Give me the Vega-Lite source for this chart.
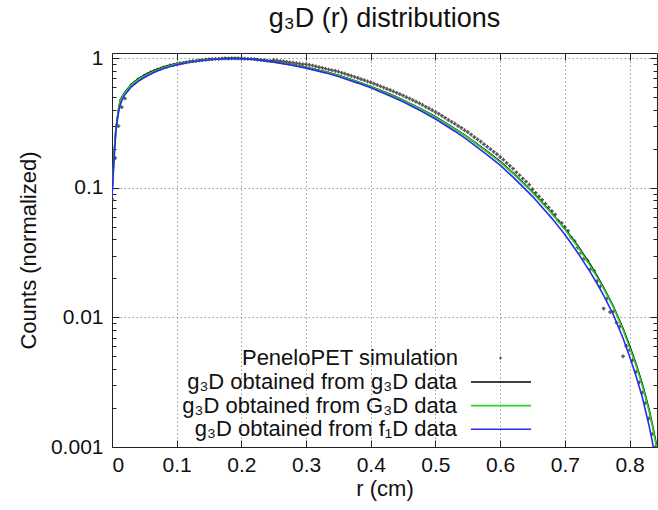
{
  "$schema": "https://vega.github.io/schema/vega-lite/v6.json",
  "width": 545,
  "height": 394,
  "autosize": {"type": "none"},
  "padding": {"left": 112, "top": 53, "right": 1, "bottom": 63},
  "background": "white",
  "title": {
    "text": "g₃D (r) distributions",
    "font": "Liberation Sans",
    "fontSize": 27,
    "fontWeight": "normal",
    "color": "#111111",
    "offset": 14
  },
  "config": {
    "view": {"stroke": null},
    "font": "Liberation Sans",
    "axis": {
      "domainColor": "#222222",
      "domainWidth": 1,
      "tickColor": "#222222",
      "tickWidth": 1,
      "labelFont": "Liberation Sans",
      "labelFontSize": 21,
      "labelColor": "#111111",
      "titleFont": "Liberation Sans",
      "titleFontSize": 22,
      "titleFontWeight": "normal",
      "titleColor": "#111111",
      "gridColor": "#9a9a9a",
      "gridDash": [1.5, 2.5],
      "gridWidth": 1
    }
  },
  "datasets": {
    "sim": [
      {"r": 0, "c": 0.082}, {"r": 0.005, "c": 0.17}, {"r": 0.01, "c": 0.3}, {"r": 0.015, "c": 0.42},
      {"r": 0.02, "c": 0.49}, {"r": 0.025, "c": 0.575}, {"r": 0.03, "c": 0.624}, {"r": 0.035, "c": 0.653},
      {"r": 0.04, "c": 0.687}, {"r": 0.045, "c": 0.708}, {"r": 0.05, "c": 0.736}, {"r": 0.055, "c": 0.755},
      {"r": 0.06, "c": 0.78}, {"r": 0.065, "c": 0.796}, {"r": 0.07, "c": 0.818}, {"r": 0.075, "c": 0.832},
      {"r": 0.08, "c": 0.853}, {"r": 0.085, "c": 0.865}, {"r": 0.09, "c": 0.881}, {"r": 0.095, "c": 0.891},
      {"r": 0.1, "c": 0.904}, {"r": 0.105, "c": 0.914}, {"r": 0.11, "c": 0.925}, {"r": 0.115, "c": 0.933},
      {"r": 0.12, "c": 0.944}, {"r": 0.125, "c": 0.951}, {"r": 0.13, "c": 0.957}, {"r": 0.135, "c": 0.964},
      {"r": 0.14, "c": 0.971}, {"r": 0.145, "c": 0.977}, {"r": 0.15, "c": 0.982}, {"r": 0.155, "c": 0.986},
      {"r": 0.16, "c": 0.989}, {"r": 0.165, "c": 0.993}, {"r": 0.17, "c": 0.995}, {"r": 0.175, "c": 0.998},
      {"r": 0.18, "c": 0.997}, {"r": 0.185, "c": 1.0}, {"r": 0.19, "c": 0.999}, {"r": 0.195, "c": 0.998},
      {"r": 0.2, "c": 0.996}, {"r": 0.205, "c": 0.995}, {"r": 0.21, "c": 0.991}, {"r": 0.215, "c": 0.989},
      {"r": 0.22, "c": 0.986}, {"r": 0.225, "c": 0.979}, {"r": 0.23, "c": 0.975}, {"r": 0.235, "c": 0.968},
      {"r": 0.24, "c": 0.962}, {"r": 0.245, "c": 0.957}, {"r": 0.25, "c": 0.97}, {"r": 0.255, "c": 0.963},
      {"r": 0.26, "c": 0.954}, {"r": 0.265, "c": 0.948}, {"r": 0.27, "c": 0.941}, {"r": 0.275, "c": 0.932},
      {"r": 0.28, "c": 0.926}, {"r": 0.285, "c": 0.917}, {"r": 0.29, "c": 0.909}, {"r": 0.295, "c": 0.899},
      {"r": 0.3, "c": 0.899}, {"r": 0.305, "c": 0.889}, {"r": 0.31, "c": 0.879}, {"r": 0.315, "c": 0.866},
      {"r": 0.32, "c": 0.855}, {"r": 0.325, "c": 0.845}, {"r": 0.33, "c": 0.833}, {"r": 0.335, "c": 0.82},
      {"r": 0.34, "c": 0.809}, {"r": 0.345, "c": 0.801}, {"r": 0.35, "c": 0.789}, {"r": 0.355, "c": 0.774},
      {"r": 0.36, "c": 0.762}, {"r": 0.365, "c": 0.746}, {"r": 0.37, "c": 0.733}, {"r": 0.375, "c": 0.719},
      {"r": 0.38, "c": 0.706}, {"r": 0.385, "c": 0.691}, {"r": 0.39, "c": 0.679}, {"r": 0.395, "c": 0.663},
      {"r": 0.4, "c": 0.652}, {"r": 0.405, "c": 0.637}, {"r": 0.41, "c": 0.624}, {"r": 0.415, "c": 0.608},
      {"r": 0.42, "c": 0.595}, {"r": 0.425, "c": 0.581}, {"r": 0.43, "c": 0.569}, {"r": 0.435, "c": 0.555},
      {"r": 0.44, "c": 0.542}, {"r": 0.445, "c": 0.529}, {"r": 0.45, "c": 0.516}, {"r": 0.455, "c": 0.502},
      {"r": 0.46, "c": 0.489}, {"r": 0.465, "c": 0.475}, {"r": 0.47, "c": 0.463}, {"r": 0.475, "c": 0.45},
      {"r": 0.48, "c": 0.437}, {"r": 0.485, "c": 0.423}, {"r": 0.49, "c": 0.411}, {"r": 0.495, "c": 0.398},
      {"r": 0.5, "c": 0.385}, {"r": 0.505, "c": 0.373}, {"r": 0.51, "c": 0.36}, {"r": 0.515, "c": 0.348},
      {"r": 0.52, "c": 0.335}, {"r": 0.525, "c": 0.324}, {"r": 0.53, "c": 0.313}, {"r": 0.535, "c": 0.301},
      {"r": 0.54, "c": 0.291}, {"r": 0.545, "c": 0.279}, {"r": 0.55, "c": 0.27}, {"r": 0.555, "c": 0.258},
      {"r": 0.56, "c": 0.247}, {"r": 0.565, "c": 0.237}, {"r": 0.57, "c": 0.228}, {"r": 0.575, "c": 0.217},
      {"r": 0.58, "c": 0.208}, {"r": 0.585, "c": 0.199}, {"r": 0.59, "c": 0.19}, {"r": 0.595, "c": 0.182},
      {"r": 0.6, "c": 0.173}, {"r": 0.605, "c": 0.165}, {"r": 0.61, "c": 0.156}, {"r": 0.615, "c": 0.148},
      {"r": 0.62, "c": 0.141}, {"r": 0.625, "c": 0.132}, {"r": 0.63, "c": 0.125}, {"r": 0.635, "c": 0.118},
      {"r": 0.64, "c": 0.112}, {"r": 0.645, "c": 0.106}, {"r": 0.65, "c": 0.0978}, {"r": 0.655, "c": 0.0917},
      {"r": 0.66, "c": 0.086}, {"r": 0.665, "c": 0.081}, {"r": 0.67, "c": 0.0756}, {"r": 0.675, "c": 0.0706},
      {"r": 0.68, "c": 0.0662}, {"r": 0.685, "c": 0.0622}, {"r": 0.69, "c": 0.0558}, {"r": 0.695, "c": 0.0536},
      {"r": 0.7, "c": 0.05}, {"r": 0.705, "c": 0.0466}, {"r": 0.71, "c": 0.0414}, {"r": 0.715, "c": 0.0388},
      {"r": 0.72, "c": 0.0346}, {"r": 0.725, "c": 0.0316}, {"r": 0.73, "c": 0.0285}, {"r": 0.735, "c": 0.0275},
      {"r": 0.74, "c": 0.0237}, {"r": 0.745, "c": 0.0229}, {"r": 0.75, "c": 0.0191}, {"r": 0.755, "c": 0.0174},
      {"r": 0.76, "c": 0.0117}, {"r": 0.765, "c": 0.014}, {"r": 0.77, "c": 0.011}, {"r": 0.775, "c": 0.0111},
      {"r": 0.78, "c": 0.00912}, {"r": 0.785, "c": 0.00851}, {"r": 0.79, "c": 0.00501}, {"r": 0.795, "c": 0.00603},
      {"r": 0.8, "c": 0.00562}, {"r": 0.805, "c": 0.00468}, {"r": 0.81, "c": 0.0038}, {"r": 0.815, "c": 0.00316},
      {"r": 0.82, "c": 0.00263}, {"r": 0.825, "c": 0.00219}, {"r": 0.83, "c": 0.00166}, {"r": 0.835, "c": 0.00126},
      {"r": 0.84, "c": 0.001}
    ],
    "g3D": [
      {"r": 0, "c": 0.09}, {"r": 0.003, "c": 0.18}, {"r": 0.006, "c": 0.285}, {"r": 0.01, "c": 0.402},
      {"r": 0.013, "c": 0.484}, {"r": 0.02, "c": 0.548}, {"r": 0.03, "c": 0.63}, {"r": 0.04, "c": 0.691},
      {"r": 0.05, "c": 0.74}, {"r": 0.06, "c": 0.784}, {"r": 0.07, "c": 0.823}, {"r": 0.08, "c": 0.857},
      {"r": 0.09, "c": 0.888}, {"r": 0.1, "c": 0.909}, {"r": 0.12, "c": 0.947}, {"r": 0.14, "c": 0.976},
      {"r": 0.16, "c": 0.994}, {"r": 0.18, "c": 1.0}, {"r": 0.19, "c": 1.0}, {"r": 0.2, "c": 0.998},
      {"r": 0.22, "c": 0.987}, {"r": 0.25, "c": 0.945}, {"r": 0.28, "c": 0.891}, {"r": 0.3, "c": 0.855},
      {"r": 0.33, "c": 0.787}, {"r": 0.35, "c": 0.74}, {"r": 0.38, "c": 0.659}, {"r": 0.4, "c": 0.607},
      {"r": 0.43, "c": 0.528}, {"r": 0.45, "c": 0.477}, {"r": 0.48, "c": 0.402}, {"r": 0.5, "c": 0.354},
      {"r": 0.53, "c": 0.286}, {"r": 0.55, "c": 0.246}, {"r": 0.58, "c": 0.191}, {"r": 0.6, "c": 0.16},
      {"r": 0.62, "c": 0.13}, {"r": 0.65, "c": 0.0932}, {"r": 0.68, "c": 0.0637}, {"r": 0.7, "c": 0.0484},
      {"r": 0.72, "c": 0.0358}, {"r": 0.74, "c": 0.0253}, {"r": 0.75, "c": 0.0208}, {"r": 0.76, "c": 0.017},
      {"r": 0.775, "c": 0.0122}, {"r": 0.79, "c": 0.0082}, {"r": 0.8, "c": 0.00607}, {"r": 0.81, "c": 0.0044},
      {"r": 0.82, "c": 0.00304}, {"r": 0.83, "c": 0.00197}, {"r": 0.835, "c": 0.00152}, {"r": 0.843, "c": 0.00096}
    ],
    "G3D": [
      {"r": 0, "c": 0.0891}, {"r": 0.003, "c": 0.178}, {"r": 0.006, "c": 0.282}, {"r": 0.01, "c": 0.398},
      {"r": 0.013, "c": 0.479}, {"r": 0.02, "c": 0.543}, {"r": 0.03, "c": 0.624}, {"r": 0.04, "c": 0.684},
      {"r": 0.05, "c": 0.733}, {"r": 0.06, "c": 0.776}, {"r": 0.07, "c": 0.815}, {"r": 0.08, "c": 0.849},
      {"r": 0.09, "c": 0.879}, {"r": 0.1, "c": 0.904}, {"r": 0.12, "c": 0.942}, {"r": 0.14, "c": 0.971},
      {"r": 0.16, "c": 0.989}, {"r": 0.18, "c": 0.998}, {"r": 0.19, "c": 1.0}, {"r": 0.2, "c": 0.995},
      {"r": 0.22, "c": 0.982}, {"r": 0.25, "c": 0.94}, {"r": 0.28, "c": 0.887}, {"r": 0.3, "c": 0.851},
      {"r": 0.33, "c": 0.783}, {"r": 0.35, "c": 0.736}, {"r": 0.38, "c": 0.656}, {"r": 0.4, "c": 0.604},
      {"r": 0.43, "c": 0.525}, {"r": 0.45, "c": 0.475}, {"r": 0.48, "c": 0.4}, {"r": 0.5, "c": 0.352},
      {"r": 0.53, "c": 0.285}, {"r": 0.55, "c": 0.245}, {"r": 0.58, "c": 0.19}, {"r": 0.6, "c": 0.158},
      {"r": 0.62, "c": 0.129}, {"r": 0.65, "c": 0.0923}, {"r": 0.68, "c": 0.0631}, {"r": 0.7, "c": 0.0479},
      {"r": 0.72, "c": 0.0351}, {"r": 0.74, "c": 0.0248}, {"r": 0.75, "c": 0.0204}, {"r": 0.76, "c": 0.0167},
      {"r": 0.775, "c": 0.012}, {"r": 0.79, "c": 0.00804}, {"r": 0.8, "c": 0.00589}, {"r": 0.81, "c": 0.00427},
      {"r": 0.82, "c": 0.00295}, {"r": 0.83, "c": 0.00191}, {"r": 0.835, "c": 0.00148}, {"r": 0.843, "c": 0.000933}
    ],
    "f1D": [
      {"r": 0, "c": 0.0851}, {"r": 0.003, "c": 0.158}, {"r": 0.006, "c": 0.275}, {"r": 0.009, "c": 0.355},
      {"r": 0.012, "c": 0.427}, {"r": 0.016, "c": 0.484}, {"r": 0.02, "c": 0.525}, {"r": 0.03, "c": 0.603},
      {"r": 0.04, "c": 0.661}, {"r": 0.05, "c": 0.711}, {"r": 0.06, "c": 0.757}, {"r": 0.07, "c": 0.798},
      {"r": 0.08, "c": 0.834}, {"r": 0.09, "c": 0.865}, {"r": 0.1, "c": 0.891}, {"r": 0.12, "c": 0.933},
      {"r": 0.14, "c": 0.964}, {"r": 0.16, "c": 0.984}, {"r": 0.18, "c": 0.998}, {"r": 0.19, "c": 1.0},
      {"r": 0.2, "c": 0.995}, {"r": 0.22, "c": 0.982}, {"r": 0.25, "c": 0.935}, {"r": 0.28, "c": 0.881},
      {"r": 0.3, "c": 0.841}, {"r": 0.33, "c": 0.773}, {"r": 0.35, "c": 0.724}, {"r": 0.38, "c": 0.644},
      {"r": 0.4, "c": 0.592}, {"r": 0.43, "c": 0.512}, {"r": 0.45, "c": 0.462}, {"r": 0.48, "c": 0.387},
      {"r": 0.5, "c": 0.34}, {"r": 0.53, "c": 0.274}, {"r": 0.55, "c": 0.234}, {"r": 0.58, "c": 0.18},
      {"r": 0.6, "c": 0.15}, {"r": 0.62, "c": 0.121}, {"r": 0.65, "c": 0.0861}, {"r": 0.68, "c": 0.0582},
      {"r": 0.7, "c": 0.0437}, {"r": 0.72, "c": 0.0316}, {"r": 0.74, "c": 0.0221}, {"r": 0.75, "c": 0.0182},
      {"r": 0.76, "c": 0.0148}, {"r": 0.775, "c": 0.0105}, {"r": 0.79, "c": 0.00692}, {"r": 0.8, "c": 0.00501},
      {"r": 0.81, "c": 0.00355}, {"r": 0.82, "c": 0.0024}, {"r": 0.83, "c": 0.00148}, {"r": 0.835, "c": 0.00112},
      {"r": 0.84, "c": 0.000794}
    ]
  },
  "resolve": {"axis": {"x": "independent", "y": "independent"}},
  "layer": [
    {
      "data": {"name": "sim"},
      "mark": {"type": "point", "filled": true, "color": "#444444", "size": 14, "opacity": 0.9, "clip": true},
      "encoding": {
        "x": {
          "field": "r", "type": "quantitative",
          "scale": {"domain": [0, 0.8425], "nice": false, "zero": false},
          "axis": {
            "orient": "bottom", "title": "r (cm)", "titlePadding": 3,
            "values": [0, 0.1, 0.2, 0.3, 0.4, 0.5, 0.6, 0.7, 0.8], "format": "~g",
            "tickSize": -7, "labelPadding": 14, "grid": true
          }
        },
        "y": {
          "field": "c", "type": "quantitative",
          "scale": {"type": "log", "domain": [0.001, 1.1], "nice": false},
          "axis": {
            "orient": "left", "title": "Counts (normalized)", "titlePadding": 10,
            "values": [0.001, 0.01, 0.1, 1], "format": "~g",
            "tickSize": -7, "labelPadding": 16, "grid": true
          }
        },
        "shape": {
          "datum": "PeneloPET simulation", "type": "nominal",
          "scale": {"domain": ["PeneloPET simulation"], "range": ["cross"]},
          "legend": {
            "orient": "none", "legendX": 377.5, "legendY": 294, "title": null,
            "padding": 0, "symbolSize": 9, "symbolStrokeWidth": 0, "symbolFillColor": "#444444",
            "labelAlign": "right", "labelOffset": -53.5, "labelLimit": 0,
            "labelFont": "Liberation Sans", "labelFontSize": 22, "labelColor": "#111111"
          }
        }
      }
    },
    {
      "data": {"name": "g3D"},
      "mark": {"type": "line", "strokeWidth": 1.6, "clip": true},
      "encoding": {
        "x": {
          "field": "r", "type": "quantitative",
          "axis": {
            "orient": "top", "title": null, "labels": false, "grid": false,
            "values": [0.1, 0.2, 0.3, 0.4, 0.5, 0.6, 0.7, 0.8], "tickSize": -7
          }
        },
        "y": {
          "field": "c", "type": "quantitative",
          "axis": {
            "orient": "left", "title": null, "labels": false, "grid": false, "domain": false,
            "values": [0.002, 0.003, 0.004, 0.005, 0.006, 0.007, 0.008, 0.009, 0.02, 0.03, 0.04, 0.05, 0.06, 0.07, 0.08, 0.09, 0.2, 0.3, 0.4, 0.5, 0.6, 0.7, 0.8, 0.9],
            "tickSize": -4
          }
        },
        "color": {
          "datum": "g₃D obtained from g₃D data", "type": "nominal",
          "scale": {
            "domain": ["g₃D obtained from g₃D data", "g₃D obtained from G₃D data", "g₃D obtained from f₁D data"],
            "range": ["#000000", "#2fd22f", "#2b2bf0"]
          },
          "legend": {
            "orient": "none", "legendX": 377, "legendY": 317, "title": null,
            "padding": 0, "rowPadding": 0.6,
            "symbolType": "M-2.73,0H2.73", "symbolSize": 484, "symbolStrokeWidth": 1.6,
            "labelAlign": "right", "labelOffset": -56, "labelLimit": 0,
            "labelFont": "Liberation Sans", "labelFontSize": 22, "labelColor": "#111111"
          }
        }
      }
    },
    {
      "data": {"name": "G3D"},
      "mark": {"type": "line", "strokeWidth": 1.6, "clip": true},
      "encoding": {
        "x": {"field": "r", "type": "quantitative", "axis": null},
        "y": {
          "field": "c", "type": "quantitative",
          "axis": {
            "orient": "right", "title": null, "labels": false, "grid": false,
            "values": [0.001, 0.01, 0.1, 1], "tickSize": -7
          }
        },
        "color": {
          "datum": "g₃D obtained from G₃D data", "type": "nominal",
          "legend": {
            "orient": "none", "legendX": 377, "legendY": 317, "title": null,
            "padding": 0, "rowPadding": 0.6,
            "symbolType": "M-2.73,0H2.73", "symbolSize": 484, "symbolStrokeWidth": 1.6,
            "labelAlign": "right", "labelOffset": -56, "labelLimit": 0,
            "labelFont": "Liberation Sans", "labelFontSize": 22, "labelColor": "#111111"
          }
        }
      }
    },
    {
      "data": {"name": "f1D"},
      "mark": {"type": "line", "strokeWidth": 1.6, "clip": true},
      "encoding": {
        "x": {"field": "r", "type": "quantitative", "axis": null},
        "y": {
          "field": "c", "type": "quantitative",
          "axis": {
            "orient": "right", "title": null, "labels": false, "grid": false, "domain": false,
            "values": [0.002, 0.003, 0.004, 0.005, 0.006, 0.007, 0.008, 0.009, 0.02, 0.03, 0.04, 0.05, 0.06, 0.07, 0.08, 0.09, 0.2, 0.3, 0.4, 0.5, 0.6, 0.7, 0.8, 0.9],
            "tickSize": -4
          }
        },
        "color": {
          "datum": "g₃D obtained from f₁D data", "type": "nominal",
          "legend": {
            "orient": "none", "legendX": 377, "legendY": 317, "title": null,
            "padding": 0, "rowPadding": 0.6,
            "symbolType": "M-2.73,0H2.73", "symbolSize": 484, "symbolStrokeWidth": 1.6,
            "labelAlign": "right", "labelOffset": -56, "labelLimit": 0,
            "labelFont": "Liberation Sans", "labelFontSize": 22, "labelColor": "#111111"
          }
        }
      }
    }
  ]
}
